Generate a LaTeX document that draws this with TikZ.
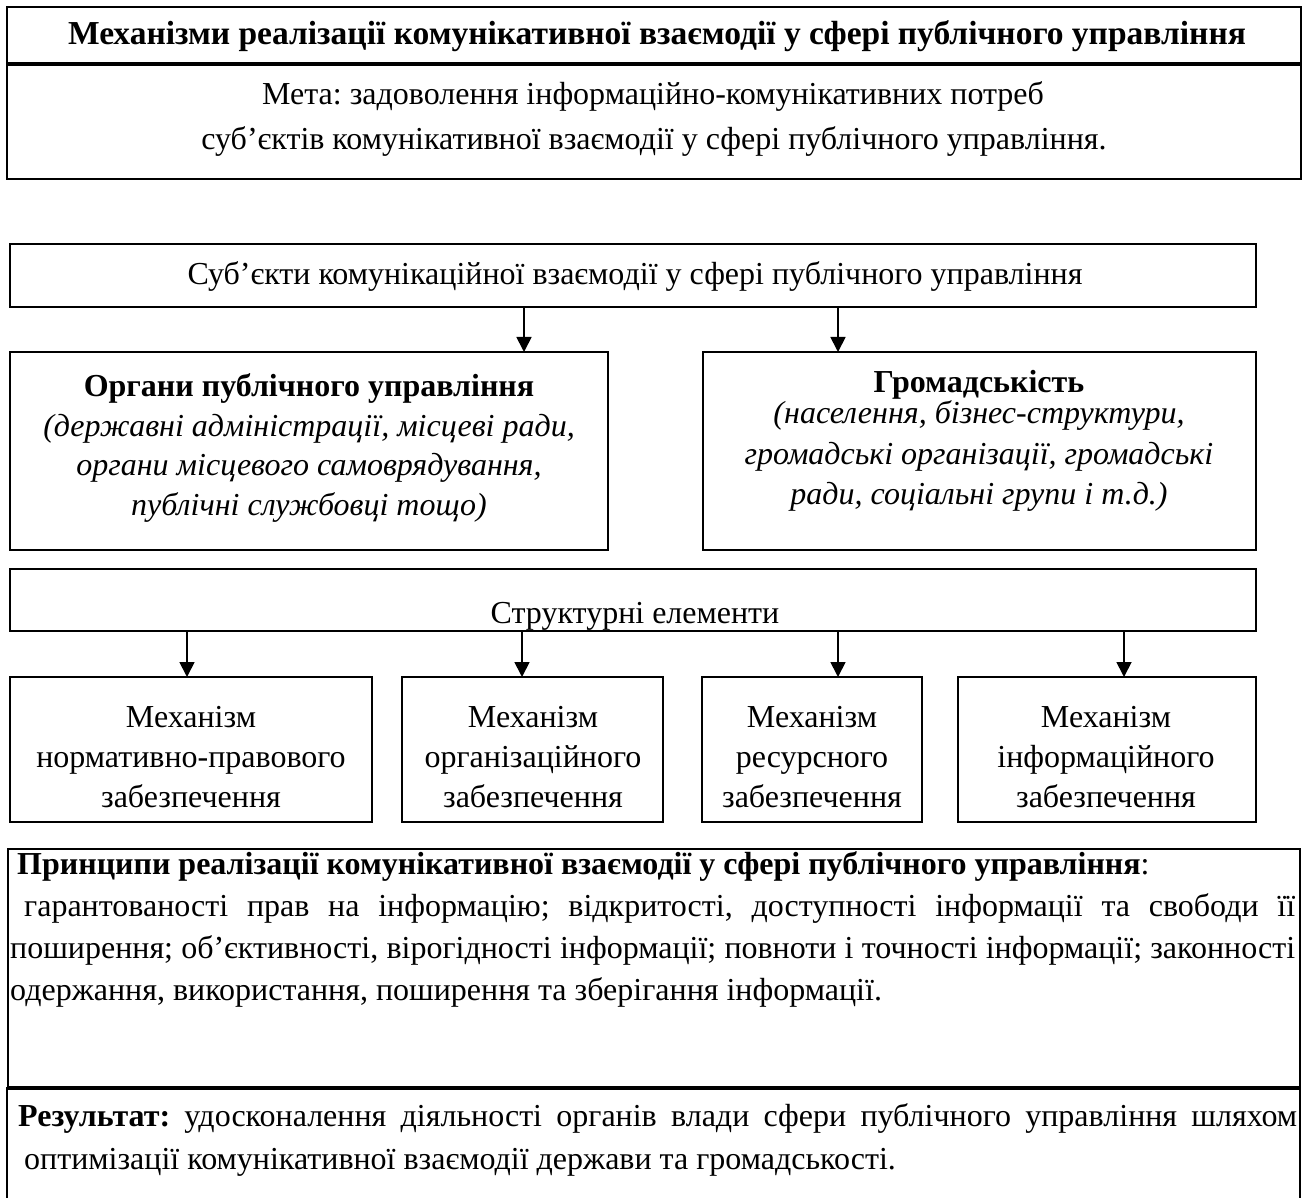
\documentclass[tikz,border=0pt]{standalone}
\usepackage{fontspec}
\setmainfont{Liberation Serif}
\usetikzlibrary{arrows.meta}
\frenchspacing
\begin{document}
\begin{tikzpicture}[x=1pt,y=-1pt,
  frame/.style={draw, line width=2pt, inner sep=0pt, outer sep=0pt, anchor=north west},
  box/.style={draw, line width=1.5pt, inner sep=0pt, outer sep=0pt, anchor=north west},
  txt/.style={inner sep=0pt, anchor=base, font=\fontsize{32}{38}\selectfont},
  ltxt/.style={inner sep=0pt, anchor=base west, font=\fontsize{32}{38}\selectfont},
  btxt/.style={txt, font=\fontsize{32}{38}\selectfont\bfseries},
  itxt/.style={txt, font=\fontsize{32}{38}\selectfont\itshape},
  arr/.style={line width=1.8pt, -{Triangle[length=15pt,width=15pt]}}
]
\useasboundingbox (0,0) rectangle (1310,1198);

% top block
\node[frame, minimum width=1294pt, minimum height=57pt] (title) at (7,7) {};
\node[frame, minimum width=1294pt, minimum height=115pt] (goal) at (7,64) {};
\draw[line width=4pt] (title.south west) -- (title.south east);
\node[txt, font=\fontsize{33.5}{40}\selectfont\bfseries] (titletext) at (657,45) {Механізми реалізації комунікативної взаємодії у сфері публічного управління};
\node[txt] (goal1) at (653,105) {Мета: задоволення інформаційно-комунікативних потреб};
\node[txt] (goal2) at (654,150) {суб’єктів комунікативної взаємодії у сфері публічного управління.};

% subjects
\node[box, minimum width=1246pt, minimum height=63pt] (subj) at (10,244) {};
\node[txt] (subjtext) at (635,285) {Суб’єкти комунікаційної взаємодії у сфері публічного управління};

\node[box, minimum width=598pt, minimum height=198pt] (org) at (10,352) {};
\node[box, minimum width=553pt, minimum height=198pt] (pub) at (703,352) {};

\node[btxt] (org0) at (309,396) {Органи публічного управління};
\node[itxt] (org1) at (309,436) {(державні адміністрації, місцеві ради,};
\node[itxt] (org2) at (309,475) {органи місцевого самоврядування,};
\node[itxt] (org3) at (309,515) {публічні службовці тощо)};

\node[btxt] (pub0) at (979,392) {Громадськість};
\node[itxt] (pub1) at (979,424) {(населення, бізнес-структури,};
\node[itxt] (pub2) at (979,464) {громадські організації, громадські};
\node[itxt] (pub3) at (979,504) {ради, соціальні групи і т.д.)};

\coordinate (ca) at (524,0);
\coordinate (cb) at (838,0);
\draw[arr] (subj.south -| ca) -- (org.north -| ca);
\draw[arr] (subj.south -| cb) -- (pub.north -| cb);

% structural elements
\node[box, minimum width=1246pt, minimum height=62pt] (struct) at (10,569) {};
\node[txt] (structtext) at (635,623) {Структурні елементи};

\node[box, minimum width=362pt, minimum height=145pt] (m1) at (10,677) {};
\node[box, minimum width=261pt, minimum height=145pt] (m2) at (402,677) {};
\node[box, minimum width=220pt, minimum height=145pt] (m3) at (702,677) {};
\node[box, minimum width=298pt, minimum height=145pt] (m4) at (958,677) {};

\coordinate (d1) at (187,0);
\coordinate (d2) at (522,0);
\coordinate (d3) at (838,0);
\coordinate (d4) at (1124,0);
\draw[arr] (struct.south -| d1) -- (m1.north -| d1);
\draw[arr] (struct.south -| d2) -- (m2.north -| d2);
\draw[arr] (struct.south -| d3) -- (m3.north -| d3);
\draw[arr] (struct.south -| d4) -- (m4.north -| d4);

\node[txt] (m1a) at (191,727) {Механізм};
\node[txt] (m1b) at (191,767) {нормативно-правового};
\node[txt] (m1c) at (191,807) {забезпечення};
\node[txt] (m2a) at (533,727) {Механізм};
\node[txt] (m2b) at (533,767) {організаційного};
\node[txt] (m2c) at (533,807) {забезпечення};
\node[txt] (m3a) at (812,727) {Механізм};
\node[txt] (m3b) at (812,767) {ресурсного};
\node[txt] (m3c) at (812,807) {забезпечення};
\node[txt] (m4a) at (1106,727) {Механізм};
\node[txt] (m4b) at (1106,767) {інформаційного};
\node[txt] (m4c) at (1106,807) {забезпечення};

% principles and result
\node[frame, minimum width=1292pt, minimum height=239pt] (princ) at (8,849) {};
\node[frame, minimum width=1293pt, minimum height=130pt] (res) at (7,1088) {};
\draw[line width=4pt] (princ.south west) -- (princ.south east);

\node[ltxt] (p0) at (17,874) {\textbf{Принципи реалізації комунікативної взаємодії у сфері публічного управління}:};
\node[ltxt] (p1) at (24,916) {\makebox[1271pt][s]{гарантованості прав на інформацію; відкритості, доступності інформації та свободи її}};
\node[ltxt] (p2) at (10,958) {\makebox[1285pt][s]{поширення; об’єктивності, вірогідності інформації; повноти і точності інформації; законності}};
\node[ltxt] (p3) at (10,1000) {одержання, використання, поширення та зберігання інформації.};

\node[ltxt] (r0) at (18,1126) {\makebox[1279pt][s]{\textbf{Результат:} удосконалення діяльності органів влади сфери публічного управління шляхом}};
\node[ltxt] (r1) at (24,1169) {оптимізації комунікативної взаємодії держави та громадськості.};
\end{tikzpicture}
\end{document}
